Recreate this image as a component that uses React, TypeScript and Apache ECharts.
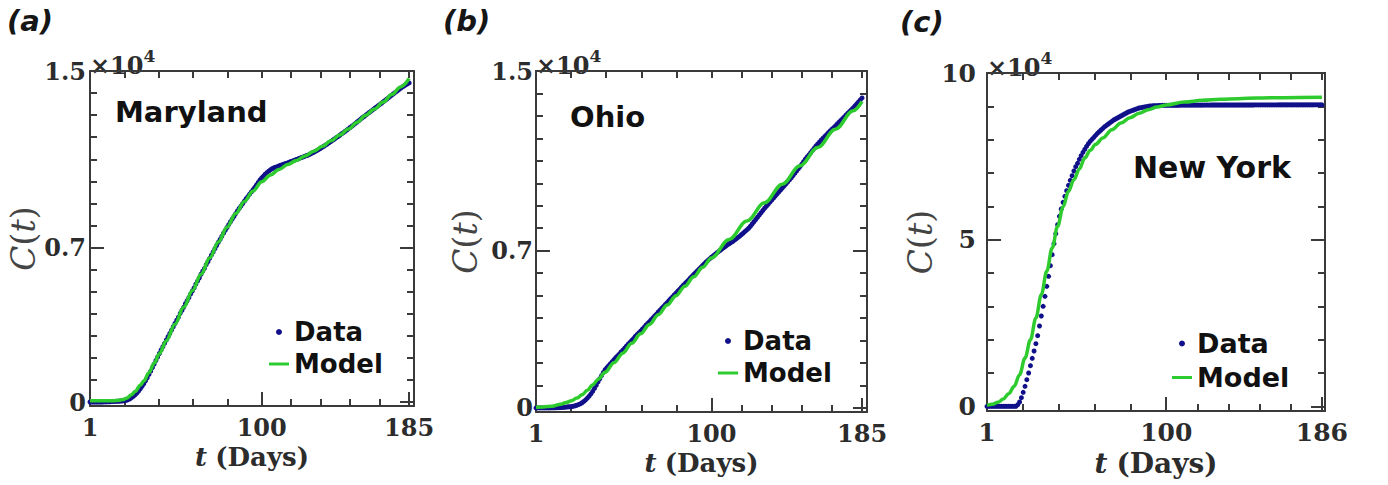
import React, { useEffect, useRef } from "react";
import * as echarts from "echarts";

// ---------- DATA ----------
// Maryland: cumulative cases, one value per day (day 1..185)
const MD_DATA = [
  0, 0, 0, 0, 0, 0, 0, 0, 5, 8,
  10, 14, 18, 22, 26, 30, 34, 40, 46, 52,
  60, 80, 110, 150, 200, 260, 330, 410, 500, 600,
  710, 830, 960, 1100, 1250, 1400, 1560, 1720, 1880, 2040,
  2200, 2360, 2510, 2660, 2810, 2960, 3110, 3260, 3410, 3560,
  3710, 3850, 4020, 4150, 4290, 4460, 4590, 4730, 4890, 5030,
  5170, 5340, 5480, 5620, 5790, 5930, 6060, 6230, 6360, 6510,
  6660, 6800, 6950, 7090, 7240, 7370, 7510, 7650, 7780, 7910,
  8040, 8170, 8290, 8410, 8540, 8660, 8770, 8880, 8990, 9100,
  9210, 9310, 9420, 9520, 9620, 9730, 9840, 9950, 10060, 10160,
  10240, 10320, 10390, 10460, 10520, 10570, 10610, 10640, 10670, 10700,
  10730, 10760, 10790, 10810, 10840, 10870, 10900, 10930, 10960, 10990,
  11020, 11050, 11080, 11110, 11140, 11170, 11200, 11240, 11280, 11320,
  11360, 11400, 11450, 11500, 11550, 11600, 11650, 11700, 11760, 11810,
  11870, 11920, 11980, 12030, 12090, 12150, 12200, 12260, 12320, 12380,
  12440, 12500, 12560, 12630, 12690, 12750, 12820, 12880, 12940, 13000,
  13060, 13120, 13180, 13240, 13300, 13360, 13420, 13480, 13540, 13600,
  13660, 13720, 13780, 13850, 13910, 13970, 14030, 14090, 14150, 14210,
  14270, 14320, 14370, 14420, 14460,
];
const MD_MODEL_DAYS = [1, 5, 10, 15, 17, 20, 22, 25, 27, 30, 32, 35, 38, 41, 45, 50, 55, 60, 65, 70, 75, 80, 85, 90, 95, 100, 105, 110, 115, 120, 125, 130, 135, 140, 145, 150, 155, 160, 165, 170, 175, 180, 185];
const MD_MODEL = [60, 60, 60, 62, 70, 110, 170, 330, 480, 760, 950, 1330, 1760, 2190, 2780, 3530, 4290, 5040, 5790, 6530, 7250, 7920, 8540, 9090, 9560, 9980, 10290, 10540, 10760, 10950, 11150, 11360, 11590, 11840, 12100, 12370, 12680, 13000, 13280, 13590, 13930, 14280, 14660];

// Ohio
const OH_DATA = [
  0, 0, 0, 0, 0, 0, 0, 0, 3, 5,
  6, 8, 11, 15, 20, 26, 33, 40, 48, 55,
  62, 75, 95, 120, 150, 185, 230, 290, 360, 440,
  530, 630, 740, 870, 1010, 1160, 1300, 1440, 1580, 1700,
  1790, 1880, 1970, 2060, 2150, 2240, 2320, 2400, 2490, 2570,
  2660, 2750, 2840, 2920, 3010, 3090, 3180, 3260, 3340, 3420,
  3510, 3590, 3680, 3760, 3840, 3930, 4010, 4100, 4180, 4270,
  4350, 4440, 4520, 4610, 4690, 4780, 4860, 4940, 5030, 5110,
  5200, 5280, 5370, 5450, 5530, 5610, 5690, 5780, 5860, 5940,
  6020, 6100, 6180, 6260, 6340, 6420, 6500, 6570, 6640, 6710,
  6770, 6840, 6900, 6960, 7020, 7080, 7140, 7200, 7260, 7310,
  7360, 7410, 7470, 7530, 7590, 7650, 7720, 7790, 7860, 7930,
  8000, 8090, 8190, 8290, 8390, 8490, 8590, 8690, 8790, 8890,
  8980, 9070, 9160, 9250, 9340, 9430, 9520, 9610, 9700, 9790,
  9880, 9970, 10060, 10150, 10240, 10340, 10440, 10540, 10640, 10740,
  10850, 10960, 11070, 11170, 11260, 11360, 11460, 11560, 11660, 11750,
  11840, 11930, 12010, 12090, 12170, 12250, 12330, 12410, 12480, 12560,
  12640, 12720, 12800, 12880, 12960, 13040, 13120, 13200, 13280, 13360,
  13450, 13530, 13620, 13710, 13800,
];
const OH_MODEL_DAYS = [1, 5, 10, 15, 18, 21, 24, 27, 30, 33, 36, 40, 45, 50, 55, 60, 65, 70, 75, 80, 85, 90, 95, 100, 110, 120, 130, 140, 150, 160, 170, 180, 185];
const OH_MODEL = [30, 45, 75, 170, 240, 325, 440, 590, 790, 1030, 1270, 1590, 2010, 2440, 2880, 3300, 3720, 4150, 4580, 5000, 5420, 5840, 6260, 6680, 7500, 8320, 9140, 9960, 10780, 11590, 12410, 13230, 13640];

// New York (day 1..186)
const NY_DATA = [
  0, 0, 0, 0, 0, 0, 0, 0, 0, 0,
  0, 0, 0, 0, 0, 0, 0, 500, 1300, 2600,
  4200, 6000, 8000, 10000, 12200, 14400, 16600, 18800, 21200, 24100,
  27100, 30000, 33000, 36000, 39000, 42200, 45500, 48800, 51800, 54500,
  57000, 59200, 61200, 63000, 64700, 66300, 67800, 69200, 70600, 71900,
  72900, 74100, 75200, 76200, 77100, 78000, 78800, 79500, 80100, 80700,
  81300, 81900, 82400, 82900, 83400, 83900, 84300, 84700, 85100, 85500,
  85900, 86200, 86500, 86800, 87100, 87400, 87700, 88000, 88300, 88500,
  88700, 88900, 89100, 89300, 89500, 89600, 89700, 89800, 89900, 90000,
  90100, 90100, 90200, 90200, 90200, 90250, 90250, 90300, 90300, 90300,
  90300, 90310, 90310, 90320, 90320, 90330, 90330, 90340, 90340, 90340,
  90350, 90350, 90350, 90360, 90360, 90360, 90370, 90370, 90370, 90370,
  90380, 90380, 90380, 90380, 90390, 90390, 90390, 90390, 90390, 90400,
  90400, 90400, 90400, 90400, 90400, 90400, 90400, 90400, 90400, 90400,
  90400, 90400, 90410, 90410, 90410, 90410, 90410, 90410, 90420, 90420,
  90420, 90420, 90420, 90420, 90420, 90420, 90420, 90420, 90420, 90420,
  90420, 90430, 90430, 90430, 90430, 90430, 90430, 90430, 90440, 90440,
  90440, 90440, 90440, 90440, 90440, 90440, 90440, 90440, 90440, 90440,
  90440, 90450, 90450, 90450, 90450, 90450,
];
const NY_MODEL_DAYS = [1, 4, 7, 10, 13, 16, 19, 22, 25, 28, 31, 34, 37, 40, 43, 46, 49, 52, 55, 58, 61, 65, 70, 75, 80, 85, 90, 95, 100, 110, 120, 130, 140, 150, 165, 186];
const NY_MODEL = [300, 600, 1200, 2200, 3800, 6000, 9500, 14500, 20000, 26500, 33500, 40500, 47500, 54000, 59800, 64500, 68000, 71200, 74500, 76800, 78600, 80500, 83000, 85000, 86600, 87900, 89000, 89800, 90400, 91300, 91800, 92100, 92300, 92500, 92600, 92700];

// Tick values and labels
const X_MAJOR_AB = [1, 100, 185];
const X_MINOR_AB = [20.8, 40.6, 60.4, 80.2, 117, 134, 151, 168];
const X_MAJOR_C = [1, 100, 186];
const X_MINOR_C = [20.8, 40.6, 60.4, 80.2, 117.2, 134.4, 151.6, 168.8];
const Y_MAJOR_AB = [0, 7000, 15000];
const Y_LABELS_AB = ["0", "0.7", "1.5"];
const Y_MINOR_AB = [1000, 2000, 3000, 4000, 5000, 6000, 8000, 9000, 10000, 11000, 12000, 13000, 14000];
const Y_MAJOR_C = [0, 50000, 100000];
const Y_LABELS_C = ["0", "5", "10"];
const Y_MINOR_C = [10000, 20000, 30000, 40000, 60000, 70000, 80000, 90000];

const PANEL_LETTERS = ["(a)", "(b)", "(c)"];
const STATE_NAMES = ["Maryland", "Ohio", "New York"];

// ---------- STYLE ----------
const SERIF = '"DejaVu Serif", serif';
const SANS = '"DejaVu Sans", sans-serif';
const AX = "#3a3a3a";
const TXT = "#2c2c2c";
const NAVY = "#10108a";
const GREEN = "#2ecb2e";
const LINE_ICON = "path://M0,0H20V3H0Z";

const days = (arr: number[]) => arr.map((v, i) => [i + 1, v]);
const pairs = (d: number[], v: number[]) => d.map((x, i) => [x, v[i]]);

const PANELS = [
  {
    grid: { left: 90, top: 71, width: 324, height: 335 },
    xMax: 187.8, xMajor: X_MAJOR_AB, xMinor: X_MINOR_AB,
    yMin: -180, yMax: 15000, yMajor: Y_MAJOR_AB, yLabels: Y_LABELS_AB, yMinor: Y_MINOR_AB,
    yNameGap: 48, xNameGap: 34, yLabelMargin: 4, fs: 24, nameFs: 26,
    data: MD_DATA, modelDays: MD_MODEL_DAYS, model: MD_MODEL,
    legend: { left: 269, top: 319, gap: 6, fs: 26 },
    letter: { x: 7, y: 21 }, state: { x: 115, y: 112, fs: 29 },
  },
  {
    grid: { left: 536, top: 71, width: 331, height: 341 },
    xMax: 187.8, xMajor: X_MAJOR_AB, xMinor: X_MINOR_AB,
    yMin: -180, yMax: 15000, yMajor: Y_MAJOR_AB, yLabels: Y_LABELS_AB, yMinor: Y_MINOR_AB,
    yNameGap: 54, xNameGap: 32, yLabelMargin: 3, fs: 24, nameFs: 26,
    data: OH_DATA, modelDays: OH_MODEL_DAYS, model: OH_MODEL,
    legend: { left: 718, top: 328, gap: 6, fs: 26 },
    letter: { x: 443, y: 21 }, state: { x: 570, y: 117, fs: 29 },
  },
  {
    grid: { left: 987, top: 73, width: 338, height: 338 },
    xMax: 187.7, xMajor: X_MAJOR_C, xMinor: X_MINOR_C,
    yMin: -1400, yMax: 100000, yMajor: Y_MAJOR_C, yLabels: Y_LABELS_C, yMinor: Y_MINOR_C,
    yNameGap: 30, xNameGap: 34, yLabelMargin: 11, fs: 25, nameFs: 28,
    data: NY_DATA, modelDays: NY_MODEL_DAYS, model: NY_MODEL,
    legend: { left: 1172, top: 330, gap: 7, fs: 27 },
    letter: { x: 900, y: 22 }, state: { x: 1133, y: 167, fs: 30 },
  },
];

function buildOption() {
  const grid: any[] = [];
  const xAxis: any[] = [];
  const yAxis: any[] = [];
  const dataSeries: any[] = [];
  const modelSeries: any[] = [];
  const legend: any[] = [];
  const graphic: any[] = [];

  const tickStyle = { color: AX, width: 2 };

  PANELS.forEach((p, g) => {
    grid.push({ ...p.grid, show: false, outerBoundsMode: "none", containLabel: false });
    const xBase = { type: "value", gridIndex: g, min: 1, max: p.xMax, splitLine: { show: false } };
    const yBase = { type: "value", gridIndex: g, min: p.yMin, max: p.yMax, splitLine: { show: false } };
    const xi = xAxis.length;
    const yi = yAxis.length;

    xAxis.push({
      ...xBase, position: "bottom",
      axisLine: { show: true, onZero: false, lineStyle: { color: AX, width: 2 } },
      axisTick: { show: true, inside: true, length: 14, customValues: p.xMajor, lineStyle: tickStyle },
      axisLabel: {
        show: true, customValues: p.xMajor, formatter: (v: number) => String(Math.round(v)),
        fontFamily: SERIF, fontWeight: "bold", fontSize: p.fs, color: TXT, margin: 9,
      },
      name: "{i|t} {b|(Days)}", nameLocation: "middle", nameGap: p.xNameGap,
      nameTextStyle: {
        fontFamily: SERIF, fontSize: p.nameFs, color: TXT,
        rich: {
          i: { fontFamily: SERIF, fontStyle: "italic", fontWeight: "bold", fontSize: p.nameFs, color: TXT },
          b: { fontFamily: SERIF, fontWeight: "bold", fontSize: p.nameFs, color: TXT },
        },
      },
    });
    xAxis.push({
      ...xBase, position: "bottom",
      axisLine: { show: false, onZero: false },
      axisTick: { show: true, inside: true, length: 7, customValues: p.xMinor, lineStyle: tickStyle },
      axisLabel: { show: false },
    });
    xAxis.push({
      ...xBase, position: "top",
      axisLine: { show: true, onZero: false, lineStyle: { color: AX, width: 2 } },
      axisTick: { show: true, inside: true, length: 7, customValues: [...p.xMinor, p.xMajor[1], p.xMajor[2]], lineStyle: tickStyle },
      axisLabel: { show: false },
    });

    const labelMap: Record<string, string> = {};
    p.yMajor.forEach((v, i) => (labelMap[String(v)] = p.yLabels[i]));

    yAxis.push({
      ...yBase, position: "left",
      axisLine: { show: true, onZero: false, lineStyle: { color: AX, width: 2 } },
      axisTick: { show: true, inside: true, length: 14, customValues: p.yMajor, lineStyle: tickStyle },
      axisLabel: {
        show: true, customValues: p.yMajor, formatter: (v: number) => labelMap[String(v)] ?? "",
        fontFamily: SERIF, fontWeight: "bold", fontSize: p.fs, color: TXT, margin: p.yLabelMargin,
      },
      name: "{i|C}{n|(}{i|t}{n|)}", nameLocation: "middle", nameRotate: 90, nameGap: p.yNameGap,
      nameTextStyle: {
        fontFamily: SERIF, fontSize: 33, color: "#444",
        rich: {
          i: { fontFamily: SERIF, fontStyle: "italic", fontSize: 33, color: "#444" },
          n: { fontFamily: SERIF, fontSize: 33, color: "#444" },
        },
      },
    });
    yAxis.push({
      ...yBase, position: "left",
      axisLine: { show: false, onZero: false },
      axisTick: { show: true, inside: true, length: 7, customValues: p.yMinor, lineStyle: tickStyle },
      axisLabel: { show: false },
      name: "{a|×10}{s|4}", nameLocation: "end", nameGap: -6,
      nameTextStyle: {
        align: "left", verticalAlign: "bottom",
        rich: {
          a: { fontFamily: SERIF, fontWeight: "bold", fontSize: 24, color: TXT, lineHeight: 30, verticalAlign: "bottom" },
          s: { fontFamily: SERIF, fontWeight: "bold", fontSize: 17, color: TXT, lineHeight: 17, verticalAlign: "top" },
        },
      },
    });
    yAxis.push({
      ...yBase, position: "right",
      axisLine: { show: true, onZero: false, lineStyle: { color: AX, width: 2 } },
      axisTick: { show: true, inside: true, length: 14, customValues: [p.yMajor[0], p.yMajor[1]], lineStyle: tickStyle },
      axisLabel: { show: false },
    });
    yAxis.push({
      ...yBase, position: "right",
      axisLine: { show: false, onZero: false },
      axisTick: { show: true, inside: true, length: 7, customValues: p.yMinor, lineStyle: tickStyle },
      axisLabel: { show: false },
    });

    dataSeries.push({
      type: "scatter", name: "Data", xAxisIndex: xi, yAxisIndex: yi,
      data: days(p.data), symbolSize: 5, itemStyle: { color: NAVY, opacity: 1 },
      z: 1, zlevel: 0, silent: true, emphasis: { disabled: true },
    });
    modelSeries.push({
      type: "line", name: "Model", xAxisIndex: xi, yAxisIndex: yi,
      data: pairs(p.modelDays, p.model), smooth: 0.35, smoothMonotone: "x",
      symbol: "none", showSymbol: false, lineStyle: { color: GREEN, width: 3.5, opacity: 1 }, itemStyle: { color: GREEN },
      z: 10, zlevel: 1, silent: true, emphasis: { disabled: true },
    });

    legend.push({
      orient: "vertical", left: p.legend.left, top: p.legend.top, padding: 0,
      itemGap: p.legend.gap, itemWidth: 20, itemHeight: 6, selectedMode: false,
      data: [
        { name: "Data", icon: "circle", itemStyle: { color: NAVY } },
        { name: "Model", icon: LINE_ICON, itemStyle: { color: GREEN } },
      ],
      textStyle: { fontFamily: SANS, fontWeight: "bold", fontSize: p.legend.fs, color: "#111", lineHeight: p.legend.fs },
    });

    graphic.push({
      type: "text", x: p.letter.x, y: p.letter.y,
      style: {
        text: PANEL_LETTERS[g], font: `italic bold 29px ${SANS}`, fill: "#161616",
        textAlign: "left", textVerticalAlign: "middle", align: "left", verticalAlign: "middle",
      },
    });
    graphic.push({
      type: "text", x: p.state.x, y: p.state.y,
      style: {
        text: STATE_NAMES[g], font: `bold ${p.state.fs}px ${SANS}`, fill: "#111",
        textAlign: "left", textVerticalAlign: "middle", align: "left", verticalAlign: "middle",
      },
    });
  });

  return {
    animation: false, backgroundColor: "#ffffff",
    grid, xAxis, yAxis, series: [...dataSeries, ...modelSeries], legend, graphic,
  };
}

export default function App() {
  const ref = useRef<HTMLDivElement>(null);
  useEffect(() => {
    document.body.style.margin = "0";
    if (!ref.current) return;
    const chart = echarts.init(ref.current, undefined, { renderer: "svg" });
    chart.setOption(buildOption() as any);
    return () => chart.dispose();
  }, []);
  return <div ref={ref} style={{ width: 1388, height: 485 }} />;
}
